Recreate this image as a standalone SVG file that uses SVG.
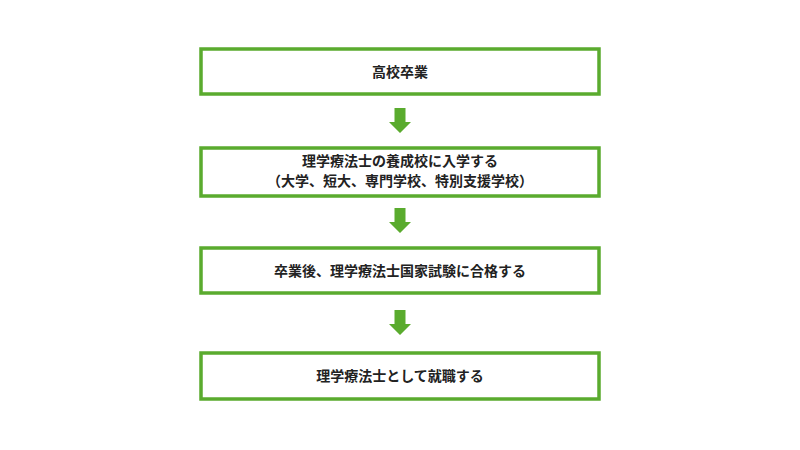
<svg xmlns="http://www.w3.org/2000/svg" width="800" height="450" viewBox="0 0 800 450">
<style>
.box{fill:#fff;stroke:#5aab2e;stroke-width:3.5}
.t{font-family:"Noto Sans CJK JP","Noto Sans CJK SC",sans-serif;font-size:14px;font-weight:bold;fill:#222;text-anchor:middle}
.ar{fill:#5aab2e}
</style>
<rect width="800" height="450" fill="#fff"/>
<g id="n1"><rect class="box" x="201" y="49" width="398" height="45"/><text class="t" x="400" y="77">高校卒業</text></g>
<g id="n2"><rect class="box" x="201" y="148" width="398" height="48"/><text class="t" x="400" y="166">理学療法士の養成校に入学する</text><text class="t" x="400" y="186">（大学、短大、専門学校、特別支援学校）</text></g>
<g id="n3"><rect class="box" x="201" y="248" width="398" height="45"/><text class="t" x="400" y="276">卒業後、理学療法士国家試験に合格する</text></g>
<g id="n4"><rect class="box" x="201" y="353" width="398" height="46"/><text class="t" x="400" y="381">理学療法士として就職する</text></g>
<g id="connectors">
<path class="ar" d="M394.5 108h11v14h5.5l-11 11-11-11h5.5z"/>
<path class="ar" d="M394.5 208h11v14h5.5l-11 11-11-11h5.5z"/>
<path class="ar" d="M394.5 310h11v14h5.5l-11 11-11-11h5.5z"/>
</g>
</svg>
